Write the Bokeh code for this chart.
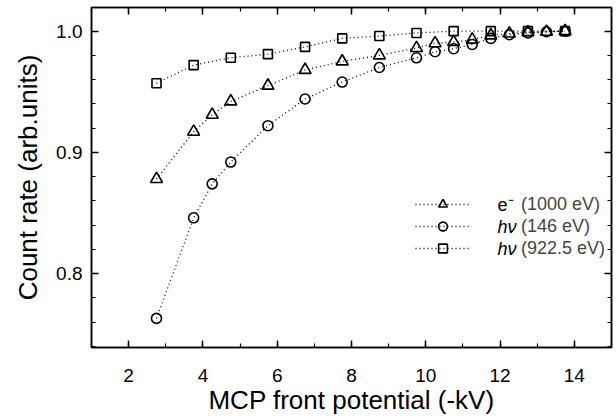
from bokeh.plotting import figure
from bokeh.models import (LinearAxis, FixedTicker, PrintfTickFormatter, Legend, LegendItem,
                          Range1d, Label, CustomLabelingPolicy, CustomJSTickFormatter)
from bokeh.embed import file_html
from bokeh.resources import INLINE

# Data
x_e = [2.75, 3.75, 4.25, 4.75, 5.75, 6.75, 7.75, 8.75, 9.75, 10.25, 10.75, 11.25, 11.75, 12.25, 12.75, 13.25, 13.75]
y_e = [0.878, 0.917, 0.931, 0.942, 0.955, 0.968, 0.975, 0.980, 0.986, 0.990, 0.991, 0.993, 0.9965, 0.998, 0.999, 0.9995, 1.0]

x_h146 = [2.75, 3.75, 4.25, 4.75, 5.75, 6.75, 7.75, 8.75, 9.75, 10.25, 10.75, 11.25, 11.75, 12.25, 12.75, 13.25, 13.75]
y_h146 = [0.763, 0.846, 0.874, 0.892, 0.922, 0.944, 0.958, 0.970, 0.978, 0.983, 0.9855, 0.989, 0.994, 0.997, 0.9985, 0.9995, 1.0]

x_h922 = [2.75, 3.75, 4.75, 5.75, 6.75, 7.75, 8.75, 9.75, 10.75, 11.75, 12.75, 13.75]
y_h922 = [0.957, 0.972, 0.978, 0.981, 0.987, 0.994, 0.996, 0.9985, 1.0, 1.0, 1.0, 1.0]

x_ticks = [2, 4, 6, 8, 10, 12, 14]
y_ticks = [0.8, 0.9, 1.0]

# legend: particle symbol (first part) and energy (second part)
leg_sym = ["e\u207b", "h\u03bd", "h\u03bd"]
leg_sym_style = ["normal", "italic", "italic"]
leg_energy = ["(1000 eV)", "(146 eV)", "(922.5 eV)"]

FONT = "Liberation Sans"

p = figure(width=616, height=420, x_range=Range1d(1, 15), y_range=Range1d(0.739, 1.0195),
           output_backend="svg", toolbar_location=None,
           min_border_left=91, min_border_right=5, min_border_top=7, min_border_bottom=73)
p.grid.visible = False
p.outline_line_color = "black"
p.outline_line_width = 1.5
p.background_fill_color = "white"
p.border_fill_color = "white"

def style_axis(ax, show_labels):
    ax.axis_line_width = 1.5
    ax.axis_line_color = "black"
    ax.major_tick_in = 7
    ax.major_tick_out = 0
    ax.minor_tick_in = 4
    ax.minor_tick_out = 0
    ax.major_tick_line_width = 1.5
    ax.minor_tick_line_width = 1.2
    ax.major_label_text_font = FONT
    ax.major_label_text_font_size = "19px"
    ax.major_label_text_color = "black"
    ax.axis_label_text_font = FONT
    ax.axis_label_text_font_style = "normal"
    ax.axis_label_text_font_size = "26px"
    ax.axis_label_text_color = "black"
    if not show_labels:
        ax.formatter = CustomJSTickFormatter(code="return ''")
        ax.major_label_policy = CustomLabelingPolicy(code="return []")
        ax.major_label_standoff = 0

xt = FixedTicker(ticks=x_ticks, minor_ticks=list(range(1, 16)))
yt = FixedTicker(ticks=y_ticks, minor_ticks=[0.74 + 0.02 * i for i in range(15)])

p.xaxis.ticker = xt
p.yaxis.ticker = yt
p.yaxis.formatter = PrintfTickFormatter(format="%.1f")
p.xaxis.axis_label = "MCP front potential (-kV)"
p.yaxis.axis_label = "Count rate (arb.units)"
style_axis(p.xaxis[0], True)
style_axis(p.yaxis[0], True)
p.xaxis.major_label_standoff = 21
p.yaxis.major_label_standoff = 9
p.xaxis.axis_label_standoff = 0
p.yaxis.axis_label_standoff = 10

top = LinearAxis(ticker=xt)
right = LinearAxis(ticker=yt)
style_axis(top, False)
style_axis(right, False)
p.add_layout(top, "above")
p.add_layout(right, "right")

dash = "1 3"
l1 = p.line(x_e, y_e, line_color="black", line_width=1.3, line_dash=dash)
s1 = p.scatter(x_e, y_e, marker="triangle", size=12, line_color="black", line_width=1.6, fill_alpha=0)
l2 = p.line(x_h146, y_h146, line_color="black", line_width=1.3, line_dash=dash)
s2 = p.scatter(x_h146, y_h146, marker="circle", size=10, line_color="black", line_width=1.6, fill_alpha=0)
l3 = p.line(x_h922, y_h922, line_color="black", line_width=1.3, line_dash=dash)
s3 = p.scatter(x_h922, y_h922, marker="square", size=9, line_color="black", line_width=1.6, fill_alpha=0)

legend = Legend(items=[LegendItem(label=leg_energy[0], renderers=[l1, s1]),
                       LegendItem(label=leg_energy[1], renderers=[l2, s2]),
                       LegendItem(label=leg_energy[2], renderers=[l3, s3])],
                location=(324, 88))
legend.border_line_alpha = 0
legend.background_fill_alpha = 0
legend.label_text_font = FONT
legend.label_text_font_size = "18px"
legend.glyph_width = 55
legend.glyph_height = 22
legend.label_height = 22
legend.spacing = 0
legend.padding = 0
legend.margin = 0
legend.label_standoff = 51
p.add_layout(legend)

# particle symbols of the legend (mixed upright / italic text)
px_per_x = 520 / 14.0
px_per_y = 340 / (1.0195 - 0.739)
sym_x = 1 + (497 - 91) / px_per_x
for i, (s, st) in enumerate(zip(leg_sym, leg_sym_style)):
    row_px = 204 + 22 * i
    p.add_layout(Label(x=sym_x, y=1.0195 - (row_px - 7) / px_per_y, text=s,
                       text_font=FONT, text_font_size="18px", text_font_style=st,
                       text_baseline="middle", text_align="left", text_color="black"))

open("out.html", "w").write(file_html(p, INLINE))
